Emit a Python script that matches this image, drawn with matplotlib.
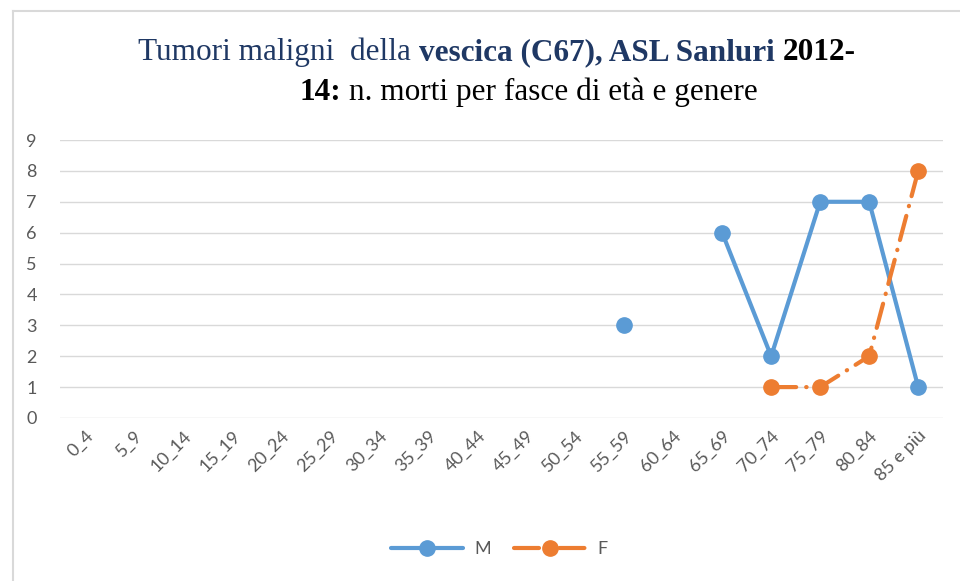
import numpy as np
import matplotlib.pyplot as plt
from matplotlib.lines import Line2D

categories = ["0_4", "5_9", "10_14", "15_19", "20_24", "25_29", "30_34", "35_39",
              "40_44", "45_49", "50_54", "55_59", "60_64", "65_69", "70_74",
              "75_79", "80_84", "85 e più"]
nan = np.nan
maschi = [nan, nan, nan, nan, nan, nan, nan, nan, nan, nan, nan, 3, nan, 6, 2, 7, 7, 1]
femmine = [nan, nan, nan, nan, nan, nan, nan, nan, nan, nan, nan, nan, nan, nan, 1, 1, 2, 8]
yticks = list(range(0, 10))

blu = "#5B9BD5"
arancio = "#ED7D31"
grigio = "#595959"
navy = "#1F3864"

fig = plt.figure(figsize=(9.6, 5.81), dpi=100)
ax = fig.add_axes([0.063, 0.2806, 0.919, 0.4784])

x = np.arange(len(categories))
ax.plot(x, maschi, color=blu, lw=3, marker="o", ms=11, solid_capstyle="round", label="M")
ax.plot(x, femmine, color=arancio, lw=3, marker="o", ms=11,
        dashes=(6.0, 2.4, 0.1, 2.4), dash_capstyle="round", label="F")

ax.set_xlim(-0.5, len(categories) - 0.5)
ax.set_ylim(0, 9)
ax.set_yticks(yticks)
ax.set_xticks(x)
ax.set_xticklabels(categories, rotation=45, ha="right", rotation_mode="anchor")
ax.tick_params(length=0, labelcolor=grigio, labelsize=13)
ax.tick_params(axis="y", pad=17)
ax.tick_params(axis="x", pad=7)
for lab in ax.get_xticklabels() + ax.get_yticklabels():
    lab.set_fontfamily("Lato")
ax.grid(axis="y", color="#D9D9D9", lw=1)
ax.set_axisbelow(True)
for s in ax.spines.values():
    s.set_visible(False)

# bordo esterno del grafico (solo sinistra e alto visibili)
fig.add_artist(Line2D([12.5 / 960, 12.5 / 960], [0, 1 - 11 / 581], color="#D9D9D9", lw=1.5))
fig.add_artist(Line2D([12.5 / 960, 1], [1 - 11 / 581, 1 - 11 / 581], color="#D9D9D9", lw=1.5))

# titolo a pezzi: colori e pesi diversi
fig.canvas.draw()
rend = fig.canvas.get_renderer()


def scrivi(pezzi, xc, y0):
    # prima misura la riga intera, poi la centra su xc
    tt = []
    tot = 0
    for testo, col, peso in pezzi:
        t = fig.text(0, y0, testo, color=col, fontweight=peso, fontsize=22.5,
                     family="Liberation Serif", ha="left", va="baseline")
        w = t.get_window_extent(renderer=rend).width / fig.bbox.width
        tt.append((t, w))
        tot += w
    xx = xc - tot / 2
    for t, w in tt:
        t.set_x(xx)
        xx += w


scrivi([("Tumori maligni  della ", navy, "normal"),
        ("vescica (C67), ASL Sanluri ", navy, "bold"),
        ("2012-", "black", "bold")], 497 / 960, 1 - 60 / 581)
scrivi([("14:", "black", "bold"),
        (" n. morti per fasce di età e genere", "black", "normal")], 529 / 960, 1 - 100 / 581)

leg = fig.legend(loc="center", bbox_to_anchor=(0.52, 1 - 549 / 581), ncol=2, frameon=False,
                 handlelength=4.0, columnspacing=1.3, handletextpad=0.6, labelcolor=grigio,
                 prop={"family": "Lato", "size": 13})

fig.savefig("out.png", dpi=100)
